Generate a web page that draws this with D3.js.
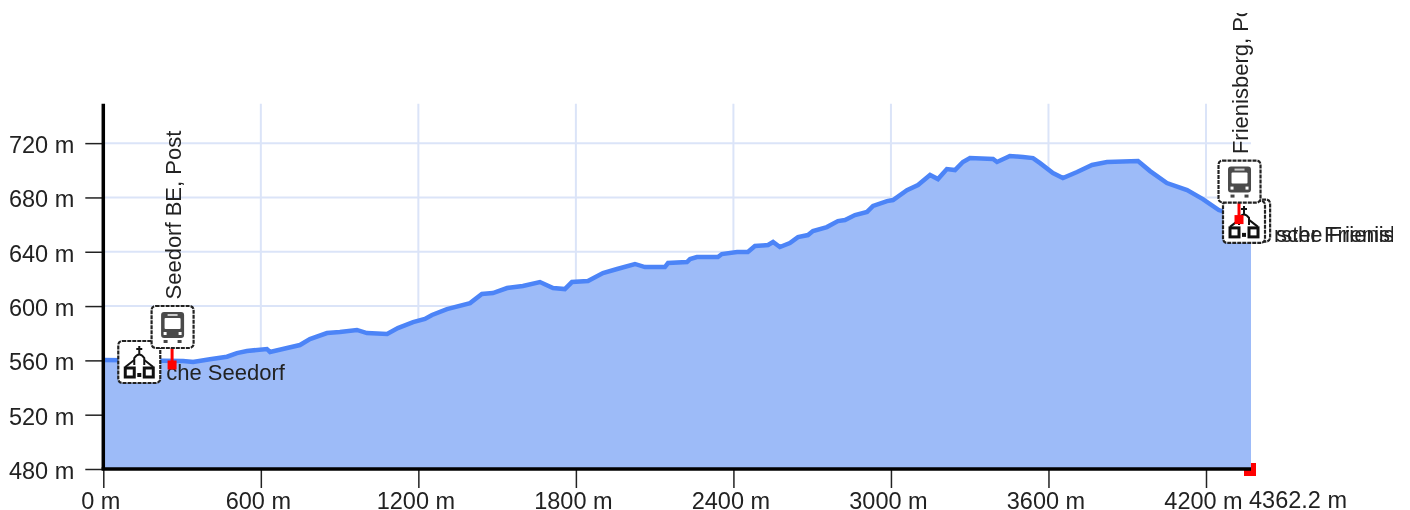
<!DOCTYPE html>
<html>
<head>
<meta charset="utf-8">
<script src="https://cdn.jsdelivr.net/npm/d3@7"></script>
<style>
  html, body { margin: 0; padding: 0; background: #fff; }
  svg { display: block; filter: blur(0.45px); }
  text { font-family: "Liberation Sans", Arial, sans-serif; fill: #222; }
  .tick text, .end-label { font-size: 23.5px; }
  .poi { font-size: 22px; }
</style>
</head>
<body>
<div id="chart"></div>
<script>
// Elevation profile
const width = 1410
const height = 510

const distance = [0, 304, 342, 406, 471, 509, 547, 623, 635, 700, 749, 787, 852, 901, 966, 1004, 1081, 1122, 1180, 1225, 1252, 1309, 1397, 1442, 1484, 1538, 1598, 1663, 1713, 1758, 1785, 1846, 1903, 1957, 2025, 2063, 2139, 2151, 2223, 2235, 2261, 2341, 2356, 2414, 2455, 2482, 2532, 2551, 2577, 2615, 2646, 2684, 2703, 2756, 2798, 2825, 2863, 2909, 2932, 2985, 3008, 3061, 3103, 3149, 3179, 3213, 3244, 3274, 3301, 3389, 3404, 3453, 3503, 3541, 3568, 3617, 3655, 3709, 3766, 3823, 3941, 3987, 4051, 4128, 4188, 4246, 4362.2]
const elevation = [560.3, 559.5, 558.8, 560.8, 562.7, 565.4, 566.9, 568.4, 566.2, 569.1, 571.3, 575.7, 580.1, 580.9, 582.4, 580.1, 579.4, 583.8, 588.2, 590.5, 593.4, 597.8, 602.2, 608.9, 609.6, 613.3, 614.8, 617.7, 613.3, 612.5, 617.7, 618.4, 624.3, 627.3, 631, 628.7, 628.7, 631.7, 632.4, 634.6, 636.1, 636.1, 638.3, 639.8, 639.8, 644.2, 645, 647.2, 643.5, 646.4, 650.8, 652.3, 655.3, 658.2, 662.6, 663.4, 667, 669.3, 673.7, 677.3, 678.1, 685.4, 689.1, 696.5, 693.5, 700.9, 700.2, 706.1, 709, 708.3, 706.1, 710.5, 709.8, 709, 705.3, 698, 694.3, 698.7, 703.9, 706.1, 706.8, 699.4, 690.6, 685.4, 678.8, 670.7, 663.4]

const xTicks = [0, 600, 1200, 1800, 2400, 3000, 3600, 4200]
const yTicks = [480, 520, 560, 600, 640, 680, 720]

// Points of interest along the route
const busNames = ['Seedorf BE, Post', 'Frienisberg, Post']
const busDistance = [262, 4319]
const busElevation = [556.6, 663.7]

const chapelDistance = [137, 4337, 4359]
const chapelElevation = [558.8, 662, 663]
const chapelNames = ['che Seedorf', 'rster Frienisb', 'sche Frienisti']

const x = d3.scaleLinear().domain([0, 4200, 4362.2]).range([103.3, 1206, 1251])
const y = d3.scaleLinear().domain([480, 750]).range([469, 102.4])

const svg = d3.select('#chart')
  .append('svg')
  .attr('width', width)
  .attr('height', height)

svg.append('defs').append('clipPath').attr('id', 'page')
  .append('rect').attr('x', 0).attr('y', 13).attr('width', 1393).attr('height', 497)

const profile = distance.map((d, i) => [d, elevation[i]])

// Grid
svg.append('g').selectAll('line')
  .data(xTicks.slice(1))
  .enter().append('line')
  .attr('x1', d => x(d)).attr('x2', d => x(d))
  .attr('y1', y(749)).attr('y2', y(480))
  .attr('stroke', '#dbe4f8').attr('stroke-width', 2)

svg.append('g').selectAll('line')
  .data(yTicks.slice(1))
  .enter().append('line')
  .attr('x1', x(0)).attr('x2', x(4362.2))
  .attr('y1', d => y(d)).attr('y2', d => y(d))
  .attr('stroke', '#dbe4f8').attr('stroke-width', 2)

// End marker sits behind the area
svg.append('rect')
  .attr('x', x(4362.2) - 7).attr('y', y(480) - 6)
  .attr('width', 12).attr('height', 13)
  .attr('fill', '#ff0000')

// Area and profile line
const area = d3.area().x(d => x(d[0])).y0(y(480)).y1(d => y(d[1]))
const line = d3.line().x(d => x(d[0])).y(d => y(d[1]))

svg.append('path').datum(profile)
  .attr('d', area)
  .attr('fill', '#9dbbf8')

svg.append('path').datum(profile)
  .attr('d', line)
  .attr('fill', 'none')
  .attr('stroke', '#4c84f7')
  .attr('stroke-width', 4.5)

// Axes
const xAxis = d3.axisBottom(x).tickValues(xTicks).tickFormat(d => `${d} m`).tickSize(19).tickPadding(4)
const yAxis = d3.axisLeft(y).tickValues(yTicks).tickFormat(d => `${d} m`).tickSize(18).tickPadding(11)

const gx = svg.append('g').attr('transform', `translate(0, ${y(480)})`).call(xAxis)
const gy = svg.append('g').attr('transform', `translate(${x(0)}, 0)`).call(yAxis)

gx.select('.domain').remove()
gy.select('.domain').remove()
gx.selectAll('line').attr('stroke', '#222').attr('stroke-width', 1.5)
gy.selectAll('line').attr('stroke', '#222').attr('stroke-width', 1.5)
gx.selectAll('text').attr('dx', -3)
gy.selectAll('text').attr('dy', '0.4em')

svg.append('text')
  .attr('class', 'end-label')
  .attr('x', x(4362.2) - 2).attr('y', y(480) + 39)
  .text('4362.2 m')

svg.append('line')
  .attr('x1', x(0) - 1.7).attr('x2', x(4362.2))
  .attr('y1', y(480)).attr('y2', y(480))
  .attr('stroke', '#000').attr('stroke-width', 3.5)
svg.append('line')
  .attr('x1', x(0)).attr('x2', x(0))
  .attr('y1', y(749)).attr('y2', y(480))
  .attr('stroke', '#000').attr('stroke-width', 3.5)

// Sign icon, a rounded box with a small pictogram
function sign(cx, cy, kind) {
  const s = svg.append('g').attr('transform', `translate(${cx}, ${cy})`)
  s.append('rect')
    .attr('x', -21).attr('y', -21).attr('width', 42).attr('height', 42).attr('rx', 4)
    .attr('fill', '#fff').attr('stroke', '#222').attr('stroke-width', 2.2).attr('stroke-dasharray', '4 1')
  if (kind === 'bus') {
    s.append('rect').attr('x', -11.5).attr('y', -15).attr('width', 23).attr('height', 26).attr('rx', 3).attr('fill', '#4a4a4a')
    s.append('rect').attr('x', -8).attr('y', -9).attr('width', 16).attr('height', 11).attr('rx', 1).attr('fill', '#fff')
    s.append('rect').attr('x', -5).attr('y', -13).attr('width', 10).attr('height', 2).attr('fill', '#ccc')
    s.append('rect').attr('x', -9).attr('y', 5).attr('width', 3).attr('height', 3).attr('fill', '#fff')
    s.append('rect').attr('x', 6).attr('y', 5).attr('width', 3).attr('height', 3).attr('fill', '#fff')
    s.append('rect').attr('x', -9).attr('y', 13).attr('width', 4).attr('height', 3).attr('fill', '#444')
    s.append('rect').attr('x', 5).attr('y', 13).attr('width', 4).attr('height', 3).attr('fill', '#444')
  } else {
    s.append('path').attr('d', 'M0 -16V-8M-3 -13H3M-5 3V-4Q0 -11 5 -4V3').attr('fill', 'none').attr('stroke', '#111').attr('stroke-width', 2)
    s.append('rect').attr('x', -14).attr('y', 6).attr('width', 9).attr('height', 9).attr('fill', 'none').attr('stroke', '#111').attr('stroke-width', 3)
    s.append('rect').attr('x', 5).attr('y', 6).attr('width', 9).attr('height', 9).attr('fill', 'none').attr('stroke', '#111').attr('stroke-width', 3)
    s.append('rect').attr('x', -2).attr('y', 11).attr('width', 4).attr('height', 4).attr('fill', '#111')
    s.append('path').attr('d', 'M-14 5L-5 -2M14 5L5 -2').attr('stroke', '#111').attr('stroke-width', 2)
  }
}

const labels = svg.append('g').attr('clip-path', 'url(#page)')

// Chapel labels sit right of the icon
labels.append('text').attr('class', 'poi').attr('x', x(chapelDistance[0]) + 27).attr('y', y(chapelElevation[0]) + 18).text(chapelNames[0])
labels.append('text').attr('class', 'poi').attr('x', x(chapelDistance[1]) + 30).attr('y', y(chapelElevation[1]) + 20).text(chapelNames[1])
labels.append('text').attr('class', 'poi').attr('x', x(chapelDistance[1]) + 32).attr('y', y(chapelElevation[1]) + 20).text(chapelNames[2])

sign(x(chapelDistance[2]) - 1, y(chapelElevation[2]), 'chapel')
sign(x(chapelDistance[1]) , y(chapelElevation[1]), 'chapel')
sign(x(chapelDistance[0]), y(chapelElevation[0]), 'chapel')

// Bus stems and markers
busNames.forEach((name, i) => {
  const bx = x(busDistance[i])
  const by = y(busElevation[i])
  labels.append('text')
    .attr('class', 'poi')
    .attr('transform', `translate(${bx + 8.5}, ${by - 65.5}) rotate(-90)`)
    .text(name)
  svg.append('line')
    .attr('x1', bx).attr('x2', bx)
    .attr('y1', by - 30).attr('y2', by)
    .attr('stroke', '#ff0000').attr('stroke-width', 3)
  svg.append('rect')
    .attr('x', bx - 4.5).attr('y', by - 4.5)
    .attr('width', 9).attr('height', 9)
    .attr('fill', '#ff0000')
  sign(bx + 0.5, by - 38, 'bus')
})
</script>
</body>
</html>
